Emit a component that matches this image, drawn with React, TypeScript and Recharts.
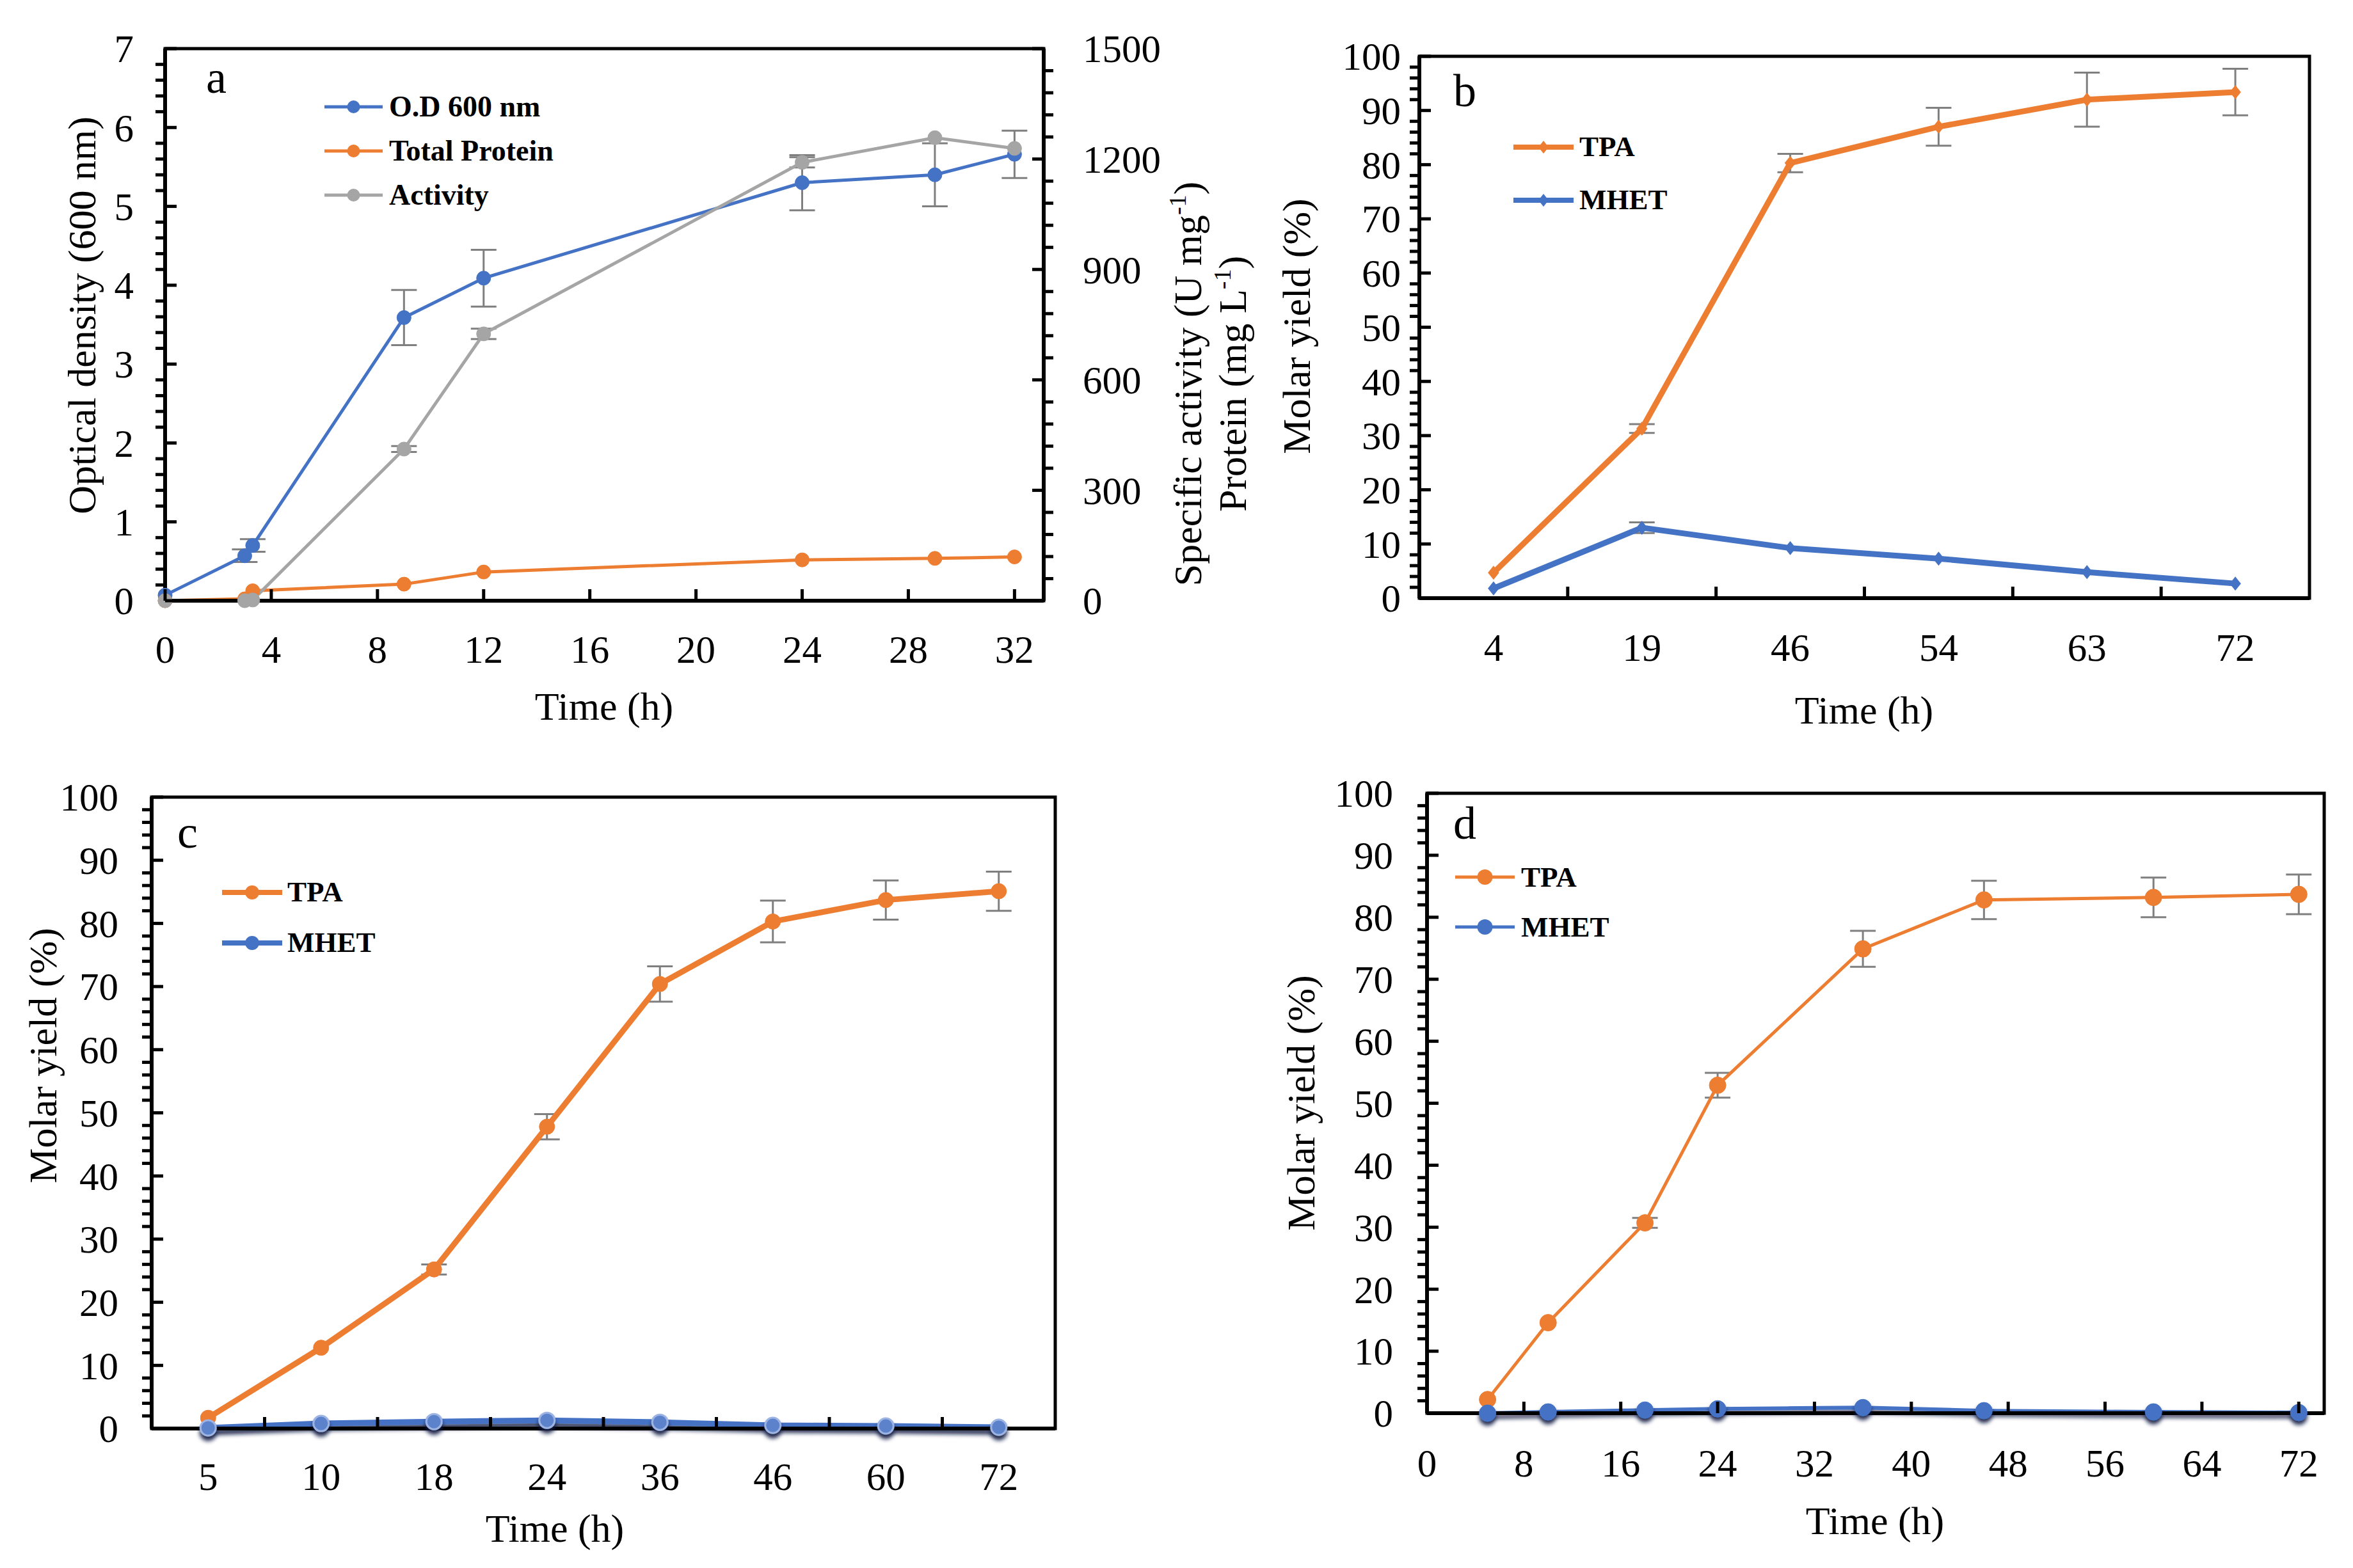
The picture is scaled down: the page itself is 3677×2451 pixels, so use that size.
import React from 'react';
import {
  LineChart,
  Line,
  XAxis,
  YAxis,
  ErrorBar,
  Legend,
  ReferenceArea,
  Label,
} from 'recharts';

const FONT = '"Liberation Serif", "Times New Roman", serif';
const BLUE = '#4472C4';
const ORANGE = '#ED7D31';
const GRAY = '#A5A5A5';
const ERR = '#7F7F7F';
const TICK = '#000';

// ---- panel a: growth, protein and activity ----
const aTime = [0, 3, 3.3, 9, 12, 24, 29, 32];
const aOD = [0.07, 0.57, 0.7, 3.59, 4.09, 5.3, 5.4, 5.66];
const aODErr = [0, 0.08, 0.08, 0.35, 0.36, 0.35, 0.4, 0.3];
const aProtein = [0, 5, 27, 45, 78, 111, 115, 119];
const aActivity = [0, 0, 2, 412, 725, 1191, 1258, 1229];
const aActivityErr = [0, 0, 0, 8, 14, 14, 0, 0];
const aXTicks = [0, 4, 8, 12, 16, 20, 24, 28, 32];
const aLegendOrder = ['O.D 600 nm', 'Total Protein', 'Activity'];

// ---- panel b ----
const bTime = ['4', '19', '46', '54', '63', '72'];
const bTPA = [4.7, 31.3, 80.3, 87.0, 92.0, 93.4];
const bTPAErr = [0, 0.8, 1.7, 3.5, 5.0, 4.3];
const bMHET = [1.8, 13.0, 9.25, 7.3, 4.8, 2.7];
const bMHETErr = [0, 1.0, 0, 0, 0, 0];

// ---- panel c ----
const cTime = ['5', '10', '18', '24', '36', '46', '60', '72'];
const cTPA = [1.7, 12.8, 25.2, 47.8, 70.4, 80.3, 83.7, 85.1];
const cTPAErr = [0, 0, 0.8, 2.0, 2.8, 3.3, 3.1, 3.1];
const cMHET = [0.1, 0.8, 1.1, 1.3, 1.0, 0.5, 0.4, 0.2];

// ---- panel d ----
const dTime = [5, 10, 18, 24, 36, 46, 60, 72];
const dTPA = [2.2, 14.6, 30.7, 52.9, 74.9, 82.8, 83.2, 83.7];
const dTPAErr = [0, 0, 0.8, 2.0, 2.9, 3.1, 3.2, 3.2];
const dMHET = [0, 0.2, 0.5, 0.7, 0.9, 0.4, 0.2, 0.1];
const dXTicks = [0, 8, 16, 24, 32, 40, 48, 56, 64, 72];

const yieldLegendOrder = ['TPA', 'MHET'];

function range(start: number, stop: number, step: number) {
  const out: number[] = [];
  for (let i = 0; start + i * step <= stop + 1e-9; i++) {
    out.push(Math.round((start + i * step) * 1000) / 1000);
  }
  return out;
}

const isMultiple = (v: number, step: number) => Math.abs(v / step - Math.round(v / step)) < 1e-6;

// label text only on major values, so Recharts does not thin out the minor ticks
function majorFormatter(major: number) {
  return (v: number) => (isMultiple(v, major) ? String(Math.round(v)) : '');
}

// y ticks: major ticks point inside with a label, minor ticks point outside
function makeYTick(margin: number, side: 'left' | 'right', major: number) {
  return (props: any) => {
    const { x, y, payload } = props;
    const v = payload.value;
    const dir = side === 'left' ? 1 : -1;
    const axisX = x + dir * margin;
    if (!isMultiple(v, major)) {
      return (
        <g>
          <line x1={axisX - dir * 15} x2={axisX} y1={y} y2={y} stroke={TICK} strokeWidth={5} />
        </g>
      );
    }
    return (
      <g>
        <line x1={axisX} x2={axisX + dir * 18} y1={y} y2={y} stroke={TICK} strokeWidth={5} />
        <text
          x={x}
          y={y}
          dy="0.35em"
          textAnchor={side === 'left' ? 'end' : 'start'}
          fontSize={61}
          fontFamily={FONT}
          fill="#000"
        >
          {String(Math.round(v))}
        </text>
      </g>
    );
  };
}

// x ticks: numeric axis (label + inside tick) or category axis (labels on
// integer positions, inside ticks on the half positions between them)
function makeXTick(margin: number, labels?: string[]) {
  return (props: any) => {
    const { x, y, payload } = props;
    const v = payload.value;
    const axisY = y - margin;
    const tick = <line x1={x} x2={x} y1={axisY} y2={axisY - 18} stroke={TICK} strokeWidth={5} />;
    if (labels && !Number.isInteger(v)) return <g>{tick}</g>;
    const text = (
      <text x={x} y={y} dy="0.35em" textAnchor="middle" fontSize={61} fontFamily={FONT} fill="#000">
        {labels ? labels[v] : String(v)}
      </text>
    );
    return labels ? text : <g>{tick}{text}</g>;
  };
}

function vTitle(x: number, y: number, text: React.ReactNode) {
  return () => (
    <text
      transform={`rotate(-90 ${x} ${y})`}
      x={x}
      y={y}
      dy="0.35em"
      textAnchor="middle"
      fontSize={62}
      fontFamily={FONT}
      fill="#000"
    >
      {text}
    </text>
  );
}

function hText(x: number, y: number, text: string, size = 62) {
  return () => (
    <text x={x} y={y} dy="0.35em" textAnchor="middle" fontSize={size} fontFamily={FONT} fill="#000">
      {text}
    </text>
  );
}

function letter(x: number, y: number, text: string) {
  return () => (
    <text x={x} y={y} textAnchor="middle" fontSize={72} fontFamily={FONT} fill="#000">
      {text}
    </text>
  );
}

function diamondDot(color: string, s: number) {
  return (props: any) => {
    const { cx, cy, index } = props;
    if (cx == null || cy == null) return <g key={`n-${index}`} />;
    return (
      <path
        key={`dm-${index}`}
        d={`M${cx},${cy - s}L${cx + s * 0.8},${cy}L${cx},${cy + s}L${cx - s * 0.8},${cy}Z`}
        fill={color}
      />
    );
  };
}

interface LegendOpts {
  order: string[];
  rowH: number;
  lineW: number;
  gap: number;
  font: number;
  stroke: number;
  marker: 'circle' | 'diamond';
  r: number;
}

function makeLegend(o: LegendOpts) {
  return (props: any) => {
    const items = (props.payload || [])
      .filter((p: any) => p.type !== 'none')
      .slice()
      .sort((a: any, b: any) => o.order.indexOf(a.value) - o.order.indexOf(b.value));
    const mid = o.lineW / 2;
    return (
      <div>
        {items.map((p: any) => (
          <div key={p.value} style={{ display: 'flex', alignItems: 'center', height: o.rowH }}>
            <svg width={o.lineW} height={30} style={{ display: 'block' }}>
              <line x1={0} x2={o.lineW} y1={15} y2={15} stroke={p.color} strokeWidth={o.stroke} />
              {o.marker === 'circle' ? (
                <circle cx={mid} cy={15} r={o.r} fill={p.color} />
              ) : (
                <path
                  d={`M${mid},${15 - o.r}L${mid + o.r * 0.8},15L${mid},${15 + o.r}L${mid - o.r * 0.8},15Z`}
                  fill={p.color}
                />
              )}
            </svg>
            <span
              style={{
                marginLeft: o.gap,
                fontFamily: FONT,
                fontWeight: 'bold',
                fontSize: o.font,
                lineHeight: 1,
                color: '#000',
                whiteSpace: 'nowrap',
              }}
            >
              {p.value}
            </span>
          </div>
        ))}
      </div>
    );
  };
}

const axisLine = { stroke: '#000', strokeWidth: 6 };

function PanelA() {
  const rows = aTime.map((t, i) => ({
    t,
    od: aOD[i],
    odErr: aODErr[i],
    protein: aProtein[i],
    activity: aActivity[i],
    activityErr: aActivityErr[i],
  }));
  return (
    <LineChart width={1985} height={1150} data={rows} margin={{ top: 76, right: 0, bottom: 0, left: 0 }}>
      <ReferenceArea yAxisId="left" x1={0} x2={33.1} y1={0} y2={7} fill="none" stroke="#000" strokeWidth={5} />
      <XAxis
        dataKey="t"
        type="number"
        domain={[0, 33.1]}
        ticks={aXTicks}
        interval={0}
        minTickGap={0}
        height={211}
        tickSize={0}
        tickMargin={76}
        tickLine={false}
        axisLine={axisLine}
        tick={makeXTick(76)}
      >
        <Label content={hText(944, 1103, 'Time (h)')} />
      </XAxis>
      <YAxis
        yAxisId="left"
        orientation="left"
        domain={[0, 7]}
        ticks={range(0, 7, 0.2)}
        interval={0}
        minTickGap={0}
        tickFormatter={majorFormatter(1)}
        width={258}
        tickSize={0}
        tickMargin={49}
        tickLine={false}
        axisLine={axisLine}
        tick={makeYTick(49, 'left', 1)}
      >
        <Label content={vTitle(127, 493, 'Optical density (600 nm)')} />
        <Label content={letter(338, 145, 'a')} />
      </YAxis>
      <YAxis
        yAxisId="right"
        orientation="right"
        domain={[0, 1500]}
        ticks={range(0, 1500, 60)}
        interval={0}
        minTickGap={0}
        tickFormatter={majorFormatter(300)}
        width={354}
        tickSize={0}
        tickMargin={61}
        tickLine={false}
        axisLine={axisLine}
        tick={makeYTick(61, 'right', 300)}
      >
        <Label
          content={vTitle(
            1855,
            600,
            <>
              Specific activity (U mg
              <tspan dy={-24} fontSize={38}>-1</tspan>
              <tspan dy={24}>)</tspan>
            </>
          )}
        />
        <Label
          content={vTitle(
            1925,
            600,
            <>
              Protein (mg L
              <tspan dy={-24} fontSize={38}>-1</tspan>
              <tspan dy={24}>)</tspan>
            </>
          )}
        />
      </YAxis>
      <Legend
        layout="vertical"
        align="center"
        verticalAlign="middle"
        wrapperStyle={{ position: 'absolute', left: 507, top: 132, width: 'auto' }}
        content={makeLegend({
          order: aLegendOrder,
          rowH: 69,
          lineW: 91,
          gap: 10,
          font: 46,
          stroke: 5,
          marker: 'circle',
          r: 10,
        })}
      />
      <Line
        yAxisId="left"
        name="O.D 600 nm"
        dataKey="od"
        type="linear"
        stroke={BLUE}
        strokeWidth={5}
        dot={{ r: 11, fill: BLUE, stroke: BLUE, strokeWidth: 1 }}
        activeDot={false}
        isAnimationActive={false}
      >
        <ErrorBar dataKey="odErr" width={20} strokeWidth={3} stroke={ERR} />
      </Line>
      <Line
        yAxisId="right"
        name="Total Protein"
        dataKey="protein"
        type="linear"
        stroke={ORANGE}
        strokeWidth={5}
        dot={{ r: 11, fill: ORANGE, stroke: ORANGE, strokeWidth: 1 }}
        activeDot={false}
        isAnimationActive={false}
      />
      <Line
        yAxisId="right"
        name="Activity"
        dataKey="activity"
        type="linear"
        stroke={GRAY}
        strokeWidth={5}
        dot={{ r: 11, fill: GRAY, stroke: GRAY, strokeWidth: 1 }}
        activeDot={false}
        isAnimationActive={false}
      >
        <ErrorBar dataKey="activityErr" width={20} strokeWidth={3} stroke={ERR} />
      </Line>
    </LineChart>
  );
}

function PanelB() {
  const rows = bTime.map((_, i) => ({
    i,
    tpa: bTPA[i],
    tpaErr: bTPAErr[i],
    mhet: bMHET[i],
    mhetErr: bMHETErr[i],
  }));
  const n = bTime.length;
  return (
    <LineChart width={1687} height={1150} data={rows} margin={{ top: 88, right: 68, bottom: 0, left: 0 }}>
      <ReferenceArea x1={-0.5} x2={n - 0.5} y1={0} y2={100} fill="none" stroke="#000" strokeWidth={5} />
      <XAxis
        dataKey="i"
        type="number"
        domain={[-0.5, n - 0.5]}
        ticks={range(0, n - 1, 0.5)}
        interval={0}
        minTickGap={0}
        height={215}
        tickSize={0}
        tickMargin={77}
        tickLine={false}
        axisLine={axisLine}
        tick={makeXTick(77, bTime)}
      >
        <Label content={hText(923, 1109, 'Time (h)')} />
      </XAxis>
      <YAxis
        domain={[0, 100]}
        ticks={range(0, 100, 2)}
        interval={0}
        minTickGap={0}
        tickFormatter={majorFormatter(10)}
        width={228}
        tickSize={0}
        tickMargin={29}
        tickLine={false}
        axisLine={axisLine}
        tick={makeYTick(29, 'left', 10)}
      >
        <Label content={vTitle(35, 510, 'Molar yield (%)')} />
        <Label content={letter(299, 166, 'b')} />
      </YAxis>
      <Legend
        layout="vertical"
        align="center"
        verticalAlign="middle"
        wrapperStyle={{ position: 'absolute', left: 375, top: 188, width: 'auto' }}
        content={makeLegend({
          order: yieldLegendOrder,
          rowH: 83,
          lineW: 94,
          gap: 9,
          font: 45,
          stroke: 8,
          marker: 'diamond',
          r: 10,
        })}
      />
      <Line
        name="TPA"
        dataKey="tpa"
        type="linear"
        stroke={ORANGE}
        strokeWidth={9}
        dot={diamondDot(ORANGE, 11)}
        activeDot={false}
        isAnimationActive={false}
      >
        <ErrorBar dataKey="tpaErr" width={20} strokeWidth={3} stroke={ERR} />
      </Line>
      <Line
        name="MHET"
        dataKey="mhet"
        type="linear"
        stroke={BLUE}
        strokeWidth={9}
        dot={diamondDot(BLUE, 11)}
        activeDot={false}
        isAnimationActive={false}
      >
        <ErrorBar dataKey="mhetErr" width={20} strokeWidth={3} stroke={ERR} />
      </Line>
    </LineChart>
  );
}

function PanelC() {
  const rows = cTime.map((_, i) => ({ i, tpa: cTPA[i], tpaErr: cTPAErr[i], mhet: cMHET[i] }));
  const n = cTime.length;
  return (
    <LineChart width={1720} height={1291} data={rows} margin={{ top: 86, right: 71, bottom: 0, left: 0 }}>
      <defs>
        <filter id="shadowC" filterUnits="userSpaceOnUse" x={0} y={0} width={1720} height={1291}>
          <feDropShadow dx={0} dy={7} stdDeviation={3} floodColor="#0b1640" floodOpacity={0.9} />
        </filter>
      </defs>
      <ReferenceArea x1={-0.5} x2={n - 0.5} y1={0} y2={100} fill="none" stroke="#000" strokeWidth={5} />
      <XAxis
        dataKey="i"
        type="number"
        domain={[-0.5, n - 0.5]}
        ticks={range(0, n - 1, 0.5)}
        interval={0}
        minTickGap={0}
        height={218}
        tickSize={0}
        tickMargin={75}
        tickLine={false}
        axisLine={axisLine}
        tick={makeXTick(75, cTime)}
      >
        <Label content={hText(867, 1228, 'Time (h)')} />
      </XAxis>
      <YAxis
        domain={[0, 100]}
        ticks={range(0, 100, 2)}
        interval={0}
        minTickGap={0}
        tickFormatter={majorFormatter(10)}
        width={237}
        tickSize={0}
        tickMargin={52}
        tickLine={false}
        axisLine={axisLine}
        tick={makeYTick(52, 'left', 10)}
      >
        <Label content={vTitle(66, 490, 'Molar yield (%)')} />
        <Label content={letter(293, 165, 'c')} />
      </YAxis>
      <Legend
        layout="vertical"
        align="center"
        verticalAlign="middle"
        wrapperStyle={{ position: 'absolute', left: 347, top: 195, width: 'auto' }}
        content={makeLegend({
          order: yieldLegendOrder,
          rowH: 79,
          lineW: 94,
          gap: 8,
          font: 45,
          stroke: 8,
          marker: 'circle',
          r: 11,
        })}
      />
      <Line
        name="TPA"
        dataKey="tpa"
        type="linear"
        stroke={ORANGE}
        strokeWidth={9}
        dot={{ r: 12, fill: ORANGE, stroke: ORANGE, strokeWidth: 1 }}
        activeDot={false}
        isAnimationActive={false}
      >
        <ErrorBar dataKey="tpaErr" width={20} strokeWidth={3} stroke={ERR} />
      </Line>
      <Line
        name="MHET"
        dataKey="mhet"
        type="linear"
        stroke={BLUE}
        strokeWidth={9}
        filter="url(#shadowC)"
        dot={{ r: 12, fill: '#5B82CC', stroke: '#9DB4E3', strokeWidth: 3 }}
        activeDot={false}
        isAnimationActive={false}
      />
    </LineChart>
  );
}

function PanelD() {
  const rows = dTime.map((t, i) => ({ t, tpa: dTPA[i], tpaErr: dTPAErr[i], mhet: dMHET[i] }));
  return (
    <LineChart width={1777} height={1291} data={rows} margin={{ top: 80, right: 45, bottom: 0, left: 0 }}>
      <defs>
        <filter id="shadowD" filterUnits="userSpaceOnUse" x={0} y={0} width={1777} height={1291}>
          <feDropShadow dx={0} dy={6} stdDeviation={3} floodColor="#0b1640" floodOpacity={0.9} />
        </filter>
      </defs>
      <ReferenceArea x1={0} x2={74.1} y1={0} y2={100} fill="none" stroke="#000" strokeWidth={5} />
      <XAxis
        dataKey="t"
        type="number"
        domain={[0, 74.1]}
        ticks={dXTicks}
        interval={0}
        minTickGap={0}
        height={242}
        tickSize={0}
        tickMargin={78}
        tickLine={false}
        axisLine={axisLine}
        tick={makeXTick(78)}
      >
        <Label content={hText(1030, 1216, 'Time (h)')} />
      </XAxis>
      <YAxis
        domain={[0, 100]}
        ticks={range(0, 100, 2)}
        interval={0}
        minTickGap={0}
        tickFormatter={majorFormatter(10)}
        width={330}
        tickSize={0}
        tickMargin={53}
        tickLine={false}
        axisLine={axisLine}
        tick={makeYTick(53, 'left', 10)}
      >
        <Label content={vTitle(132, 564, 'Molar yield (%)')} />
        <Label content={letter(389, 151, 'd')} />
      </YAxis>
      <Legend
        layout="vertical"
        align="center"
        verticalAlign="middle"
        wrapperStyle={{ position: 'absolute', left: 374, top: 172, width: 'auto' }}
        content={makeLegend({
          order: yieldLegendOrder,
          rowH: 78,
          lineW: 93,
          gap: 10,
          font: 45,
          stroke: 5,
          marker: 'circle',
          r: 12,
        })}
      />
      <Line
        name="TPA"
        dataKey="tpa"
        type="linear"
        stroke={ORANGE}
        strokeWidth={5}
        dot={{ r: 13, fill: ORANGE, stroke: ORANGE, strokeWidth: 1 }}
        activeDot={false}
        isAnimationActive={false}
      >
        <ErrorBar dataKey="tpaErr" width={20} strokeWidth={3} stroke={ERR} />
      </Line>
      <Line
        name="MHET"
        dataKey="mhet"
        type="linear"
        stroke={BLUE}
        strokeWidth={6}
        filter="url(#shadowD)"
        dot={{ r: 13, fill: BLUE, stroke: BLUE, strokeWidth: 1 }}
        activeDot={false}
        isAnimationActive={false}
      />
    </LineChart>
  );
}

export default function App() {
  return (
    <div
      style={{
        position: 'absolute',
        left: 0,
        top: 0,
        width: 3677,
        height: 2451,
        background: '#fff',
        overflow: 'hidden',
      }}
    >
      <div style={{ position: 'absolute', left: 0, top: 0 }}>
        <PanelA />
      </div>
      <div style={{ position: 'absolute', left: 1990, top: 0 }}>
        <PanelB />
      </div>
      <div style={{ position: 'absolute', left: 0, top: 1160 }}>
        <PanelC />
      </div>
      <div style={{ position: 'absolute', left: 1900, top: 1160 }}>
        <PanelD />
      </div>
    </div>
  );
}
